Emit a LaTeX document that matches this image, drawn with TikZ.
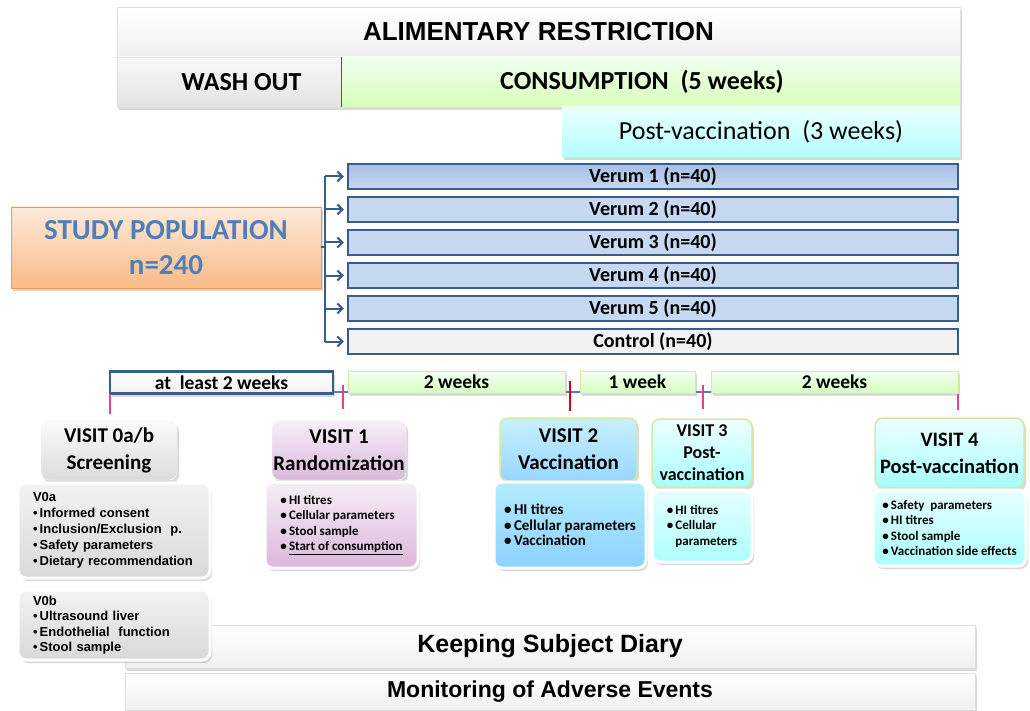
\documentclass[tikz,border=0pt]{standalone}
\usepackage{fontspec}
\setmainfont{Carlito}
\newfontfamily\arialfont{Liberation Sans}
\usetikzlibrary{arrows.meta, positioning, shadows}

\definecolor{frameblue}{HTML}{385D8A}
\definecolor{groupblue}{HTML}{C6D9F1}
\definecolor{grouptop}{HTML}{A6BEE6}
\definecolor{popblue}{HTML}{4F7EB8}
\definecolor{poporange}{HTML}{F79646}
\definecolor{tickpink}{HTML}{E8408C}
\definecolor{tickred}{HTML}{E00010}
\definecolor{linegreen}{HTML}{D4E6A8}

\def\fs#1#2{\fontsize{#1}{#2}\selectfont}
\def\itm{\textbullet\,}

\tikzset{
	shade/.style={drop shadow={opacity=0.3, shadow xshift=2pt, shadow yshift=-3pt}},
	bar/.style={draw=gray!25, top color=white, bottom color=gray!12, minimum height=50pt, inner sep=0pt, shade},
	group/.style={draw=frameblue, line width=2.5pt, fill=groupblue, minimum width=610pt, minimum height=25pt, inner sep=0pt, font=\bfseries\fs{20}{20}},
	span/.style={minimum height=22pt, inner sep=0pt, font=\bfseries\fs{19.5}{19.5}, draw=linegreen, top color=green!5!white, bottom color=green!50!lime!25, shade},
	visit/.style={rounded corners=8pt, inner sep=0pt, align=center, font=\bfseries\fs{21}{27}, shade},
	detail/.style={rounded corners=8pt, draw=white, line width=3pt, inner sep=0pt, align=left, font=\bfseries\fs{13}{15.5}, shade},
	link/.style={draw=frameblue, line width=2pt},
	tick/.style={tickpink, line width=1.5pt}
}

\begin{document}
\begin{tikzpicture}[x=1pt, y=-1pt]

	% keep the margins of the original
	\useasboundingbox (0,0) rectangle (1030,711);

	% Phases along the top
	\node[bar, minimum width=843pt, font=\arialfont\bfseries\fs{26}{30}] (alim) at (538.5,32) {ALIMENTARY RESTRICTION};
	\node[bar, minimum width=225pt, top color=gray!5, bottom color=gray!22, font=\bfseries\fs{26}{30}] (wash) at (229.5,82) {\hspace*{24pt}WASH OUT};
	\node[bar, minimum width=618pt, draw=none, top color=green!6!white, bottom color=green!40!lime!28, font=\bfseries\fs{26}{30}] (cons) at (651,82) {CONSUMPTION\ \ (5 weeks)\hspace*{18pt}};
	\draw[frameblue, line width=1.2pt] (cons.north west) -- (cons.south west);
	\node[bar, minimum width=398pt, draw=none, top color=cyan!8!white, bottom color=cyan!30, font=\fs{26}{30}] (postv) at (761,132) {Post-vaccination\ \ (3 weeks)};

	% Study population and the groups
	\node[draw=poporange, top color=poporange!20, bottom color=poporange!65, minimum width=310pt, minimum height=81pt, inner sep=0pt, align=center, text=popblue, font=\bfseries\fs{29}{35}, shade] (pop) at (166,247.5) {STUDY POPULATION\\n=240};

	\node[group, top color=grouptop, bottom color=groupblue, fill=none] (v1) at (653,176.5) {Verum 1 (n=40)};
	\node[group, below=5.5pt of v1] (v2) {Verum 2 (n=40)};
	\node[group, below=5.5pt of v2] (v3) {Verum 3 (n=40)};
	\node[group, below=5.5pt of v3] (v4) {Verum 4 (n=40)};
	\node[group, below=5.5pt of v4] (v5) {Verum 5 (n=40)};
	\node[group, below=5.5pt of v5, fill=gray!10] (ctl) {Control (n=40)};

	% Randomisation bracket
	\coordinate (bus) at (325,247.5);
	\draw[link] (pop.east) -- (bus);
	\draw[link] (bus |- v1.west) -- (bus |- ctl.west);
	\foreach \g in {v1,v2,v3,v4,v5,ctl}
		\draw[link, -{Straight Barb[length=5pt, width=10pt]}, shorten >=3pt] (bus |- \g.west) -- (\g.west);

	% Time line
	\draw[popblue, line width=2.5pt] (110,392) -- (958,392);
	\node[span, draw=frameblue, line width=2.5pt, top color=white, bottom color=gray!12, minimum width=223pt] (t0) at (221.5,382.5) {at\ \ least 2 weeks};
	\node[span, minimum width=217pt] (t1) at (456.5,382) {2 weeks};
	\node[span, minimum width=115pt] (t2) at (637.5,382) {1 week};
	\node[span, minimum width=247pt] (t3) at (834.5,382) {2 weeks};
	\draw[tick] (110,394) -- (110,414);
	\draw[tick] (343,385) -- (343,409);
	\draw[tick, tickred] (570,381) -- (570,411);
	\draw[tick] (703,385) -- (703,409);
	\draw[tick] (958,394) -- (958,410);

	% Adverse events and diary (behind the V0b box)
	\node[bar, minimum width=850pt, minimum height=43pt, font=\arialfont\bfseries\fs{25}{28}] (diary) at (550,646.5) {Keeping Subject Diary};
	\node[bar, minimum width=850pt, minimum height=37pt, font=\arialfont\bfseries\fs{23}{26}] (monit) at (550,691.5) {Monitoring of Adverse Events};

	% Visits
	\node[visit, draw=white, top color=gray!3, bottom color=gray!28, minimum width=136pt, minimum height=60pt] (vh0) at (109,450) {VISIT 0a/b\\Screening};
	\node[visit, draw=white, top color=violet!6, bottom color=violet!28, minimum width=134pt, minimum height=60pt] (vh1) at (339,450) {VISIT 1\\Randomization};
	\node[visit, draw=linegreen, line width=1.5pt, top color=blue!25!cyan!22, bottom color=blue!40!cyan!40, minimum width=137pt, minimum height=63pt] (vh2) at (568.5,449.5) {VISIT 2\\Vaccination};
	\node[visit, draw=linegreen, line width=1.5pt, top color=cyan!6, bottom color=cyan!35, minimum width=100pt, minimum height=68pt, font=\bfseries\fs{18}{22}] (vh3) at (702,453) {VISIT 3\\Post-\\vaccination};
	\node[visit, draw=linegreen, line width=1.5pt, top color=cyan!6, bottom color=cyan!35, minimum width=149pt, minimum height=70pt, font=\bfseries\fs{20.5}{27}] (vh4) at (949.5,453) {VISIT 4\\Post-vaccination};

	\node[detail, top color=gray!10, bottom color=gray!30, minimum width=192pt, minimum height=95pt, text width=162pt, font=\arialfont\bfseries\fs{13}{16}] (d0a) at (114,530.5)
		{V0a\\\itm Informed consent\\\itm Inclusion/Exclusion\ \ p.\\\itm Safety parameters\\\itm Dietary recommendation};
	\node[detail, top color=gray!10, bottom color=gray!30, minimum width=192pt, minimum height=70pt, text width=162pt, font=\arialfont\bfseries\fs{13}{15.5}] (d0b) at (114,625)
		{V0b\\\itm Ultrasound liver\\\itm Endothelial\ \ function\\\itm Stool sample};
	\node[detail, top color=violet!7, bottom color=violet!28, minimum width=153pt, minimum height=86pt] (d1) at (341.5,525)
		{\itm HI titres\\\itm Cellular parameters\\\itm Stool sample\\\itm\underline{Start of consumption}};
	\node[detail, top color=blue!25!cyan!30, bottom color=blue!40!cyan!45, minimum width=152pt, minimum height=86pt, font=\bfseries\fs{15}{15.5}] (d2) at (570,525)
		{\itm HI titres\\\itm Cellular parameters\\\itm Vaccination};
	\node[detail, top color=cyan!10, bottom color=cyan!32, minimum width=100pt, minimum height=72pt] (d3) at (702,526)
		{\itm HI titres\\\itm Cellular\\\phantom{\itm}parameters};
	\node[detail, top color=cyan!10, bottom color=cyan!32, minimum width=153pt, minimum height=76pt] (d4) at (949.5,528)
		{\itm Safety\ \ parameters\\\itm HI titres\\\itm Stool sample\\\itm Vaccination side effects};

\end{tikzpicture}
\end{document}
